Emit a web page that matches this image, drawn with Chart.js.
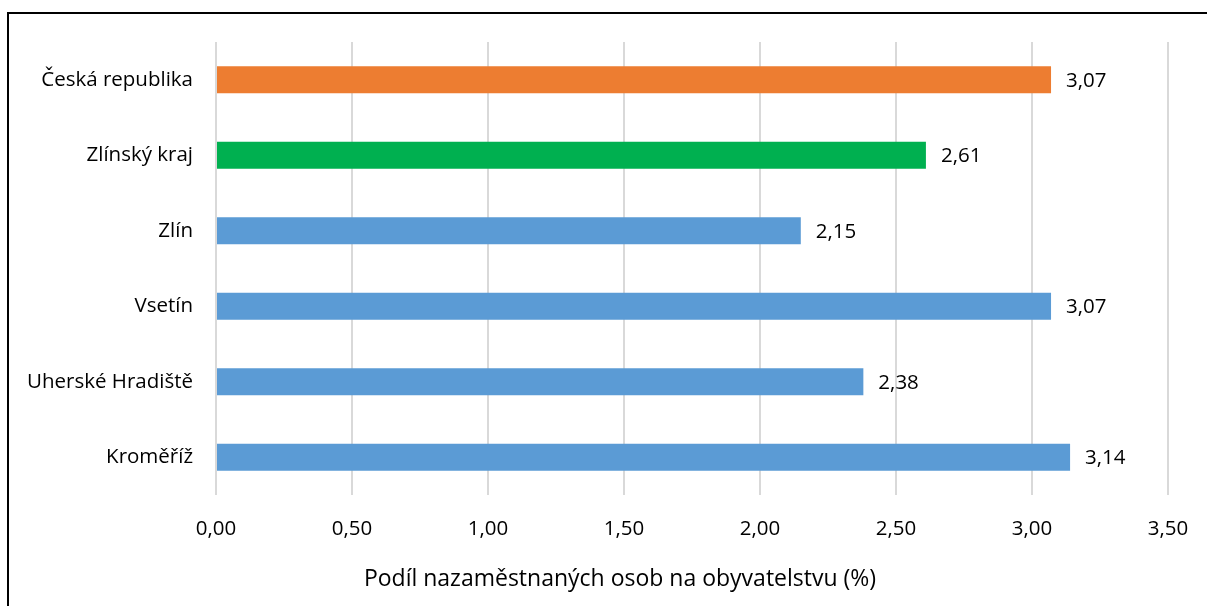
<!DOCTYPE html>
<html>
<head>
<meta charset="utf-8">
<script src="https://cdn.jsdelivr.net/npm/chart.js@4.4.1/dist/chart.umd.min.js"></script>
<style>
  html, body { margin: 0; padding: 0; background: #ffffff; overflow: hidden; }
  #wrap { position: relative; width: 1207px; height: 606px; }
  #frame { position: absolute; left: 7px; top: 12px; width: 1300px; height: 700px; border: 2px solid #000; box-sizing: border-box; pointer-events: none; }
  canvas { position: absolute; left: 0; top: 0; }
</style>
</head>
<body>
<div id="wrap">
  <canvas id="c" width="1207" height="606"></canvas>
  <div id="frame"></div>
</div>
<script>
const categories = ["Česká republika", "Zlínský kraj", "Zlín", "Vsetín", "Uherské Hradiště", "Kroměříž"];
const values = [3.07, 2.61, 2.15, 3.07, 2.38, 3.14];
const barColors = ["#ED7D31", "#00B050", "#5B9BD5", "#5B9BD5", "#5B9BD5", "#5B9BD5"];
const tickValues = [0, 0.5, 1, 1.5, 2, 2.5, 3, 3.5];
const axisTitle = "Podíl nazaměstnaných osob na obyvatelstvu (%)";

const FONT = "'Open Sans', 'Liberation Sans', sans-serif";
const fmt = v => v.toFixed(2).replace('.', ',');

const labelPlugin = {
  id: 'valueLabels',
  afterDatasetsDraw(chart) {
    const ctx = chart.ctx;
    const meta = chart.getDatasetMeta(0);
    ctx.save();
    ctx.font = "20.5px " + FONT;
    ctx.fillStyle = "#000";
    ctx.textAlign = "left";
    ctx.textBaseline = "middle";
    meta.data.forEach((bar, i) => {
      ctx.fillText(fmt(values[i]), bar.x + 15, bar.y + 1);
    });
    ctx.restore();
  }
};

const titlePlugin = {
  id: 'axisTitleText',
  afterDraw(chart) {
    const ctx = chart.ctx;
    ctx.save();
    ctx.font = "23px " + FONT;
    ctx.fillStyle = "#000";
    ctx.textAlign = "center";
    ctx.textBaseline = "middle";
    ctx.fillText(axisTitle, 620, 579);
    ctx.restore();
  }
};

new Chart(document.getElementById('c'), {
  type: 'bar',
  data: {
    labels: categories,
    datasets: [{
      data: values,
      backgroundColor: barColors,
      borderWidth: 0,
      barPercentage: 0.36,
      categoryPercentage: 1.0
    }]
  },
  options: {
    indexAxis: 'y',
    responsive: false,
    animation: false,
    devicePixelRatio: 1,
    layout: { padding: { left: 0, right: 39, top: 42, bottom: 0 } },
    plugins: { legend: { display: false }, tooltip: { enabled: false } },
    scales: {
      x: {
        min: 0, max: 3.5,
        afterBuildTicks(scale) { scale.ticks = tickValues.map(v => ({ value: v })); },
        afterFit(scale) { scale.height = 111; scale.paddingLeft = 0; scale.paddingRight = 0; },
        grid: { color: "#D9D9D9", lineWidth: 2, drawTicks: false },
        border: { display: false },
        ticks: {
          padding: 22,
          color: "#000",
          font: { family: FONT, size: 20.5 },
          callback: v => fmt(v)
        }
      },
      y: {
        afterFit(scale) { scale.width = 216; scale.paddingTop = 0; scale.paddingBottom = 0; },
        grid: { display: false, drawTicks: false },
        border: { display: false },
        ticks: {
          padding: 23,
          color: "#000",
          font: { family: FONT, size: 20.5 }
        }
      }
    }
  },
  plugins: [labelPlugin, titlePlugin]
});
</script>
</body>
</html>
